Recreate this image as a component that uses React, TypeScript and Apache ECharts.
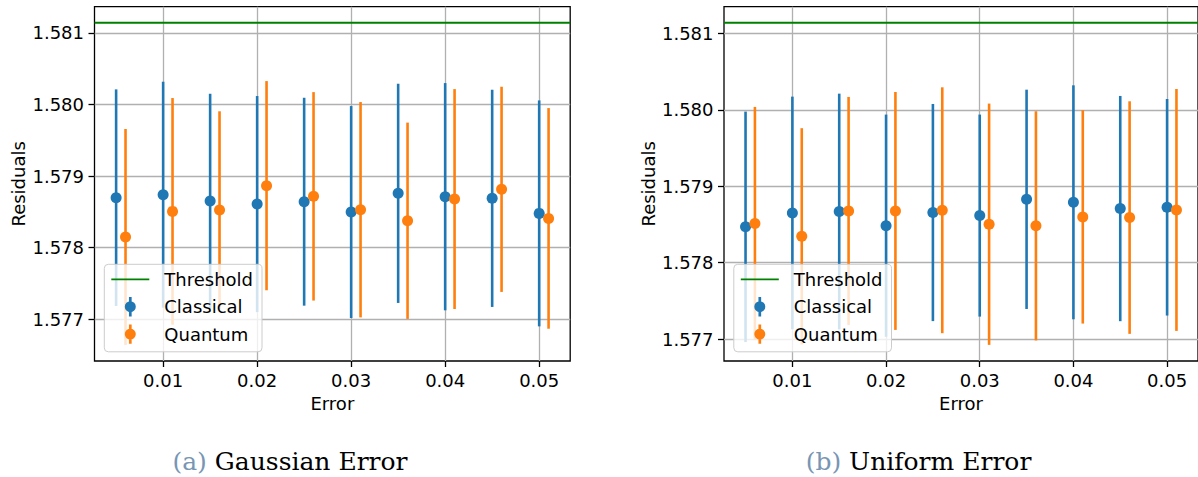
import React, { useEffect, useRef } from "react";
import * as echarts from "echarts";

// ---- data ----
const classicalX = [0.005, 0.01, 0.015, 0.02, 0.025, 0.03, 0.035, 0.04, 0.045, 0.05];
const quantumX = [0.006, 0.011, 0.016, 0.021, 0.026, 0.031, 0.036, 0.041, 0.046, 0.051];
const threshold = 1.58114;

// (a) Gaussian error
const gaussClassicalMean = [1.578697, 1.578739, 1.57865, 1.578608, 1.578641, 1.578497, 1.578758, 1.578711, 1.578688, 1.578478];
const gaussClassicalErr = [0.001513, 0.001578, 0.001499, 0.001509, 0.001452, 0.00148, 0.001531, 0.001587, 0.001517, 0.001578];
const gaussQuantumMean = [1.578149, 1.578506, 1.578524, 1.578865, 1.578716, 1.578529, 1.578375, 1.578678, 1.578814, 1.578408];
const gaussQuantumErr = [0.001508, 0.001583, 0.00138, 0.001461, 0.001456, 0.001504, 0.001371, 0.001536, 0.001433, 0.001541];

// (b) Uniform error
const uniClassicalMean = [1.57847, 1.578652, 1.57867, 1.578485, 1.578657, 1.578617, 1.57883, 1.578791, 1.578709, 1.578726];
const uniClassicalErr = [0.001508, 0.001522, 0.001543, 0.001454, 0.001421, 0.001322, 0.001435, 0.001531, 0.001474, 0.001417];
const uniQuantumMean = [1.578513, 1.578346, 1.578678, 1.578678, 1.578687, 1.578504, 1.578483, 1.5786, 1.578591, 1.578691];
const uniQuantumErr = [0.001526, 0.001415, 0.001492, 0.001557, 0.001609, 0.001579, 0.0015, 0.001396, 0.001522, 0.001583];

const xTicks = [0.01, 0.02, 0.03, 0.04, 0.05];
const yTicks = [1.577, 1.578, 1.579, 1.58, 1.581];
const xLimits = [0.0027, 0.0533];
const yLimitsGauss = [1.576416, 1.581365];
const yLimitsUniform = [1.576714, 1.581351];
const captions = ["Gaussian Error", "Uniform Error"];
const captionTags = ["(a)", "(b)"];

const BLUE = "#1f77b4";
const ORANGE = "#ff7f0e";
const GREEN = "#008000";
const FONT = "DejaVu Sans";

const errIcon =
  "path://M4.15,0 H6.85 V4.6 H4.15 Z M4.15,14.8 H6.85 V19.4 H4.15 Z M0,9.7 A5.5,5.5 0 1,1 11,9.7 A5.5,5.5 0 1,1 0,9.7 Z";
const lineIcon = "path://M0,0 H38 V1.7 H0 Z";

function zip(xs: number[], ys: number[], es: number[]) {
  return xs.map((x, i) => [x, ys[i], es[i]]);
}

function errorSeries(name: string, color: string, idx: number, data: number[][]) {
  return {
    type: "custom",
    name,
    xAxisIndex: idx,
    yAxisIndex: idx,
    itemStyle: { color },
    data,
    z: 3,
    renderItem: (params: any, api: any) => {
      const x = api.value(0);
      const y = api.value(1);
      const e = api.value(2);
      const top = api.coord([x, y + e]);
      const bot = api.coord([x, y - e]);
      const c = api.coord([x, y]);
      return {
        type: "group",
        children: [
          {
            type: "line",
            shape: { x1: top[0], y1: top[1], x2: bot[0], y2: bot[1] },
            style: { stroke: color, lineWidth: 2.6 },
          },
          {
            type: "circle",
            shape: { cx: c[0], cy: c[1], r: 5.5 },
            style: { fill: color },
          },
        ],
      };
    },
  };
}

function axesFor(idx: number, yLim: number[]) {
  const tickStyle = { color: "#000", width: 1.3 };
  const x = {
    type: "value",
    gridIndex: idx,
    min: xLimits[0],
    max: xLimits[1],
    axisLine: { show: false },
    axisTick: { show: true, customValues: xTicks, length: 6, lineStyle: tickStyle },
    axisLabel: {
      customValues: xTicks,
      formatter: (v: number) => v.toFixed(2),
      color: "#000",
      fontSize: 18,
      fontFamily: FONT,
      margin: 10.5,
    },
    splitLine: { show: true, lineStyle: { color: "#b0b0b0", width: 1.3 } },
    name: "Error",
    nameLocation: "middle",
    nameGap: 31,
    nameTextStyle: { color: "#000", fontSize: 18, fontFamily: FONT },
  };
  const y = {
    type: "value",
    gridIndex: idx,
    min: yLim[0],
    max: yLim[1],
    axisLine: { show: false },
    axisTick: { show: true, customValues: yTicks, length: 6, lineStyle: tickStyle },
    axisLabel: {
      customValues: yTicks,
      formatter: (v: number) => v.toFixed(3),
      color: "#000",
      fontSize: 18,
      fontFamily: FONT,
      margin: 10.5,
    },
    splitLine: { show: true, lineStyle: { color: "#b0b0b0", width: 1.3 } },
    name: "Residuals",
    nameLocation: "middle",
    nameRotate: 90,
    nameGap: 67,
    nameTextStyle: { color: "#000", fontSize: 18, fontFamily: FONT },
  };
  return { x, y };
}

function legendFor(left: number) {
  return {
    left,
    top: 264.3,
    orient: "vertical",
    data: [
      { name: "Threshold", icon: lineIcon },
      { name: "Classical", icon: errIcon },
      { name: "Quantum", icon: errIcon },
    ],
    itemWidth: 38,
    itemHeight: 19.4,
    itemGap: 8,
    padding: [5.3, 9, 8, 7],
    backgroundColor: "rgba(255,255,255,0.8)",
    borderColor: "#cccccc",
    borderWidth: 1,
    borderRadius: 4,
    selectedMode: false,
    symbolKeepAspect: true,
    itemStyle: { borderWidth: 0 },
    textStyle: { fontSize: 18, fontFamily: FONT, color: "#000", padding: [0, 0, 0, 10], lineHeight: 19.4 },
    z: 10,
  };
}

export default function App() {
  const ref = useRef<HTMLDivElement>(null);
  useEffect(() => {
    if (!ref.current) return;
    const chart = echarts.init(ref.current, null, { renderer: "svg" });
    const a0 = axesFor(0, yLimitsGauss);
    const a1 = axesFor(1, yLimitsUniform);
    const captionStyle = (tag: string, text: string) => ({
      text: `{t|${tag}} ${text}`,
      fontSize: 25,
      fontFamily: "DejaVu Serif",
      fill: "#000",
      align: "center",
      verticalAlign: "middle",
      textAlign: "center",
      textVerticalAlign: "middle",
      rich: { t: { fill: "#7896b4", fontSize: 25, fontFamily: "DejaVu Serif" } },
    });
    const thresholdSeries = (idx: number) => ({
      type: "line",
      name: "Threshold",
      xAxisIndex: idx,
      yAxisIndex: idx,
      data: [[xLimits[0], threshold], [xLimits[1], threshold]],
      showSymbol: false,
      lineStyle: { color: GREEN, width: 2 },
      itemStyle: { color: GREEN },
      z: 2,
    });
    chart.setOption({
      animation: false,
      backgroundColor: "#fff",
      grid: [
        { left: 94.5, top: 6.7, width: 475.7, height: 354.3, show: true, borderColor: "#000", borderWidth: 1.3, backgroundColor: "transparent" },
        { left: 724, top: 6.7, width: 475.5, height: 354.3, show: true, borderColor: "#000", borderWidth: 1.3, backgroundColor: "transparent" },
      ],
      xAxis: [a0.x, a1.x],
      yAxis: [a0.y, a1.y],
      legend: [legendFor(104.3), legendFor(733.8)],
      series: [
        thresholdSeries(0),
        thresholdSeries(1),
        errorSeries("Classical", BLUE, 0, zip(classicalX, gaussClassicalMean, gaussClassicalErr)),
        errorSeries("Quantum", ORANGE, 0, zip(quantumX, gaussQuantumMean, gaussQuantumErr)),
        errorSeries("Classical", BLUE, 1, zip(classicalX, uniClassicalMean, uniClassicalErr)),
        errorSeries("Quantum", ORANGE, 1, zip(quantumX, uniQuantumMean, uniQuantumErr)),
      ],
      graphic: [
        { type: "text", x: 290, y: 461, style: captionStyle(captionTags[0], captions[0]) },
        { type: "text", x: 918.5, y: 461, style: captionStyle(captionTags[1], captions[1]) },
      ],
    });
    return () => chart.dispose();
  }, []);
  return (
    <div
      ref={ref}
      style={{ position: "absolute", left: 0, top: 0, width: 1198, height: 477 }}
    />
  );
}
